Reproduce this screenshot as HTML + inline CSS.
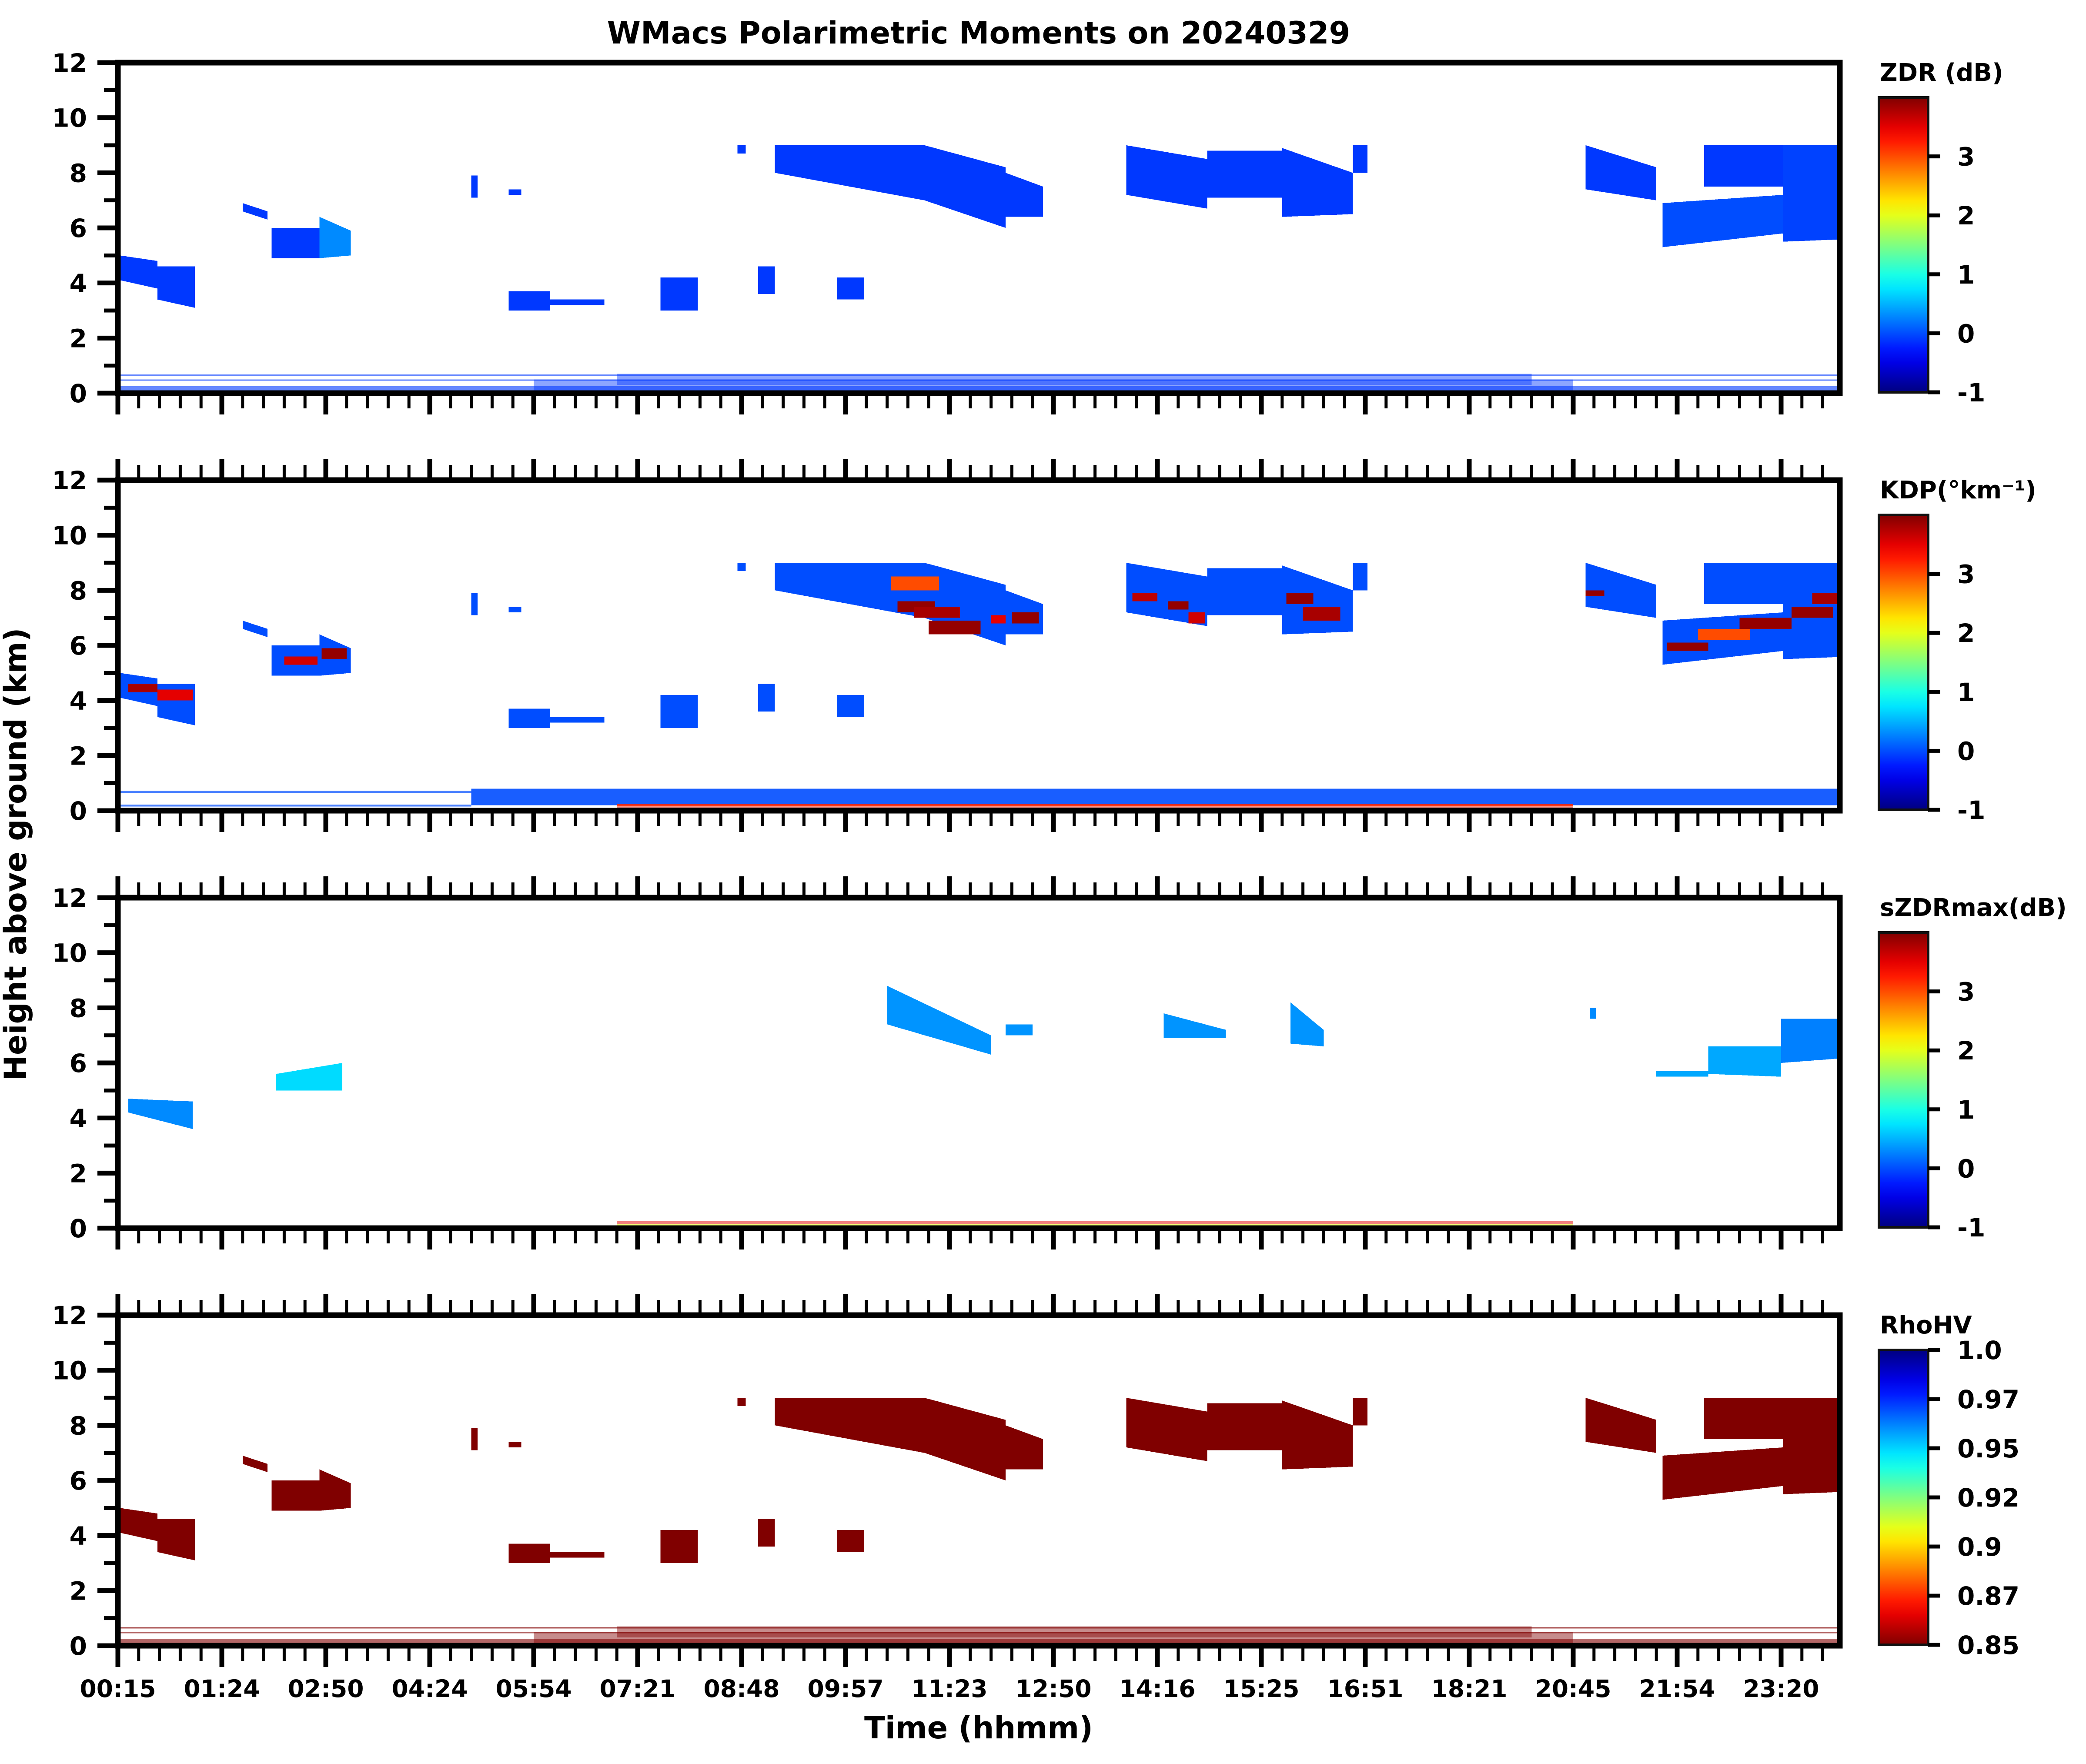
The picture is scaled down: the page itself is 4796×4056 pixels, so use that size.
<!DOCTYPE html>
<html><head><meta charset="utf-8"><style>
html,body{margin:0;padding:0;background:#fff}
svg{display:block}
text{font-family:"DejaVu Sans","Liberation Sans",sans-serif;font-weight:bold;fill:#000}
</style></head><body>
<svg id="fig" xmlns="http://www.w3.org/2000/svg" width="4796" height="4056" viewBox="0 0 4796 4056">
<text x="2250" y="100" font-size="70" text-anchor="middle">WMacs Polarimetric Moments on 20240329</text>
<text x="2250" y="3997" font-size="70" text-anchor="middle">Time (hhmm)</text>
<text transform="translate(60,1964) rotate(-90)" font-size="70" text-anchor="middle">Height above ground (km)</text>
</svg>
<script>
// ---- data (x in profile-index units, minor tick = 1 unit; heights in km) ----
const timeLabels = ["00:15","01:24","02:50","04:24","05:54","07:21","08:48","09:57","11:23","12:50","14:16","15:25","16:51","18:21","20:45","21:54","23:20"];
const yTicks = [0,2,4,6,8,10,12];
const panelTitles = ["ZDR (dB)","KDP(°km⁻¹)","sZDRmax(dB)","RhoHV"];
// echo blobs shared by ZDR / KDP / RhoHV
const blobStart = [0.1,1.9,6.0,7.4,9.7,17.0,18.8,18.8,20.8,26.1,30.8,34.6,31.6,38.8,42.7,48.5,52.4,56.0,59.4,70.6,74.3,80.1,76.3,29.8];
const blobEnd   = [1.9,3.7,7.2,9.7,11.2,17.3,19.4,20.8,23.4,27.9,31.6,35.9,38.8,42.7,44.5,52.4,56.3,59.4,60.1,74.0,80.1,83.5,80.1,30.2];
const blobBase0 = [4.1,3.4,6.6,4.9,4.9,7.1,7.2,3.0,3.2,3.0,3.6,3.4,8.0,7.0,6.4,7.2,7.1,6.4,8.0,7.4,5.3,5.5,7.5,8.7];
const blobBase1 = [3.8,3.1,6.3,4.9,5.0,7.1,7.2,3.0,3.2,3.0,3.6,3.4,7.0,6.0,6.4,6.7,7.1,6.5,8.0,7.0,5.8,5.6,7.5,8.7];
const blobTop0  = [5.0,4.6,6.9,6.0,6.4,7.9,7.4,3.7,3.4,4.2,4.6,4.2,9.0,9.0,8.0,9.0,8.8,8.9,9.0,9.0,6.9,9.0,9.0,9.0];
const blobTop1  = [4.8,4.6,6.6,6.0,5.9,7.9,7.4,3.7,3.4,4.2,4.6,4.2,9.0,8.2,7.5,8.5,8.8,8.0,9.0,8.2,7.2,9.0,9.0,9.0];
const zdrVal    = [-0.1,-0.1,-0.1,-0.1,0.3,-0.1,-0.1,-0.1,-0.1,-0.1,-0.1,-0.1,-0.1,-0.1,-0.1,-0.1,-0.1,-0.1,-0.1,-0.1,0.0,-0.05,-0.1,-0.1];
const kdpVal    = [0,0,0,0,0,0,0,0,0,0,0,0,0,0,0,0,0,0,0,0,0,0,0,0];
const rhoVal    = [0.85,0.85,0.85,0.85,0.85,0.85,0.85,0.85,0.85,0.85,0.85,0.85,0.85,0.85,0.85,0.85,0.85,0.85,0.85,0.85,0.85,0.85,0.85,0.85];
// KDP hot stripes
const kdpStripeStart = [0.5,1.9,8.0,9.8,37.2,37.5,38.3,39.0,42.0,43.0,48.8,50.5,51.5,56.2,57.0,70.6,74.5,76.0,78.0,80.5,81.5];
const kdpStripeEnd   = [1.9,3.6,9.6,11.0,39.5,39.3,40.5,41.5,42.7,44.3,50.0,51.5,52.3,57.5,58.8,71.5,76.5,78.5,80.5,82.5,83.5];
const kdpStripeH0    = [4.3,4.0,5.3,5.5,8.0,7.2,7.0,6.4,6.8,6.8,7.6,7.3,6.8,7.5,6.9,7.8,5.8,6.2,6.6,7.0,7.5];
const kdpStripeH1    = [4.6,4.4,5.6,5.9,8.5,7.6,7.4,6.9,7.1,7.2,7.9,7.6,7.2,7.9,7.4,8.0,6.1,6.6,7.0,7.4,7.9];
const kdpStripeVal   = [3.8,3.5,3.6,3.9,3.0,3.9,3.8,3.9,3.5,3.9,3.7,3.9,3.6,3.9,3.8,3.9,3.9,3.0,3.9,3.9,3.8];
// sZDRmax blobs
const szStart = [0.5,7.6,37.0,42.7,50.3,56.4,70.8,74.0,76.5,80.0];
const szEnd   = [3.6,10.8,42.0,44.0,53.3,58.0,71.1,76.5,80.0,83.5];
const szBase0 = [4.2,5.0,7.4,7.0,6.9,6.7,7.6,5.5,5.6,6.0];
const szBase1 = [3.6,5.0,6.3,7.0,6.9,6.6,7.6,5.5,5.5,6.2];
const szTop0  = [4.7,5.6,8.8,7.4,7.8,8.2,8.0,5.7,6.6,7.6];
const szTop1  = [4.6,6.0,7.0,7.4,7.2,7.2,8.0,5.7,6.6,7.6];
const szVal   = [0.3,0.7,0.35,0.35,0.35,0.35,0.3,0.45,0.45,0.25];
// ground clutter layers
const clutStart = [0.1,0.1,0.1,20.0,24.0];
const clutEnd   = [83.5,83.5,83.5,70.0,68.0];
const clutBase  = [0.62,0.45,0.05,0.0,0.3];
const clutTop   = [0.68,0.50,0.25,0.5,0.7];
const kdpGroundStart = [0.1,0.1,17.0,24.0,24.0];
const kdpGroundEnd   = [17.0,17.0,83.5,70.0,70.0];
const kdpGroundBase  = [0.65,0.15,0.2,0.02,0.15];
const kdpGroundTop   = [0.72,0.22,0.8,0.12,0.25];
const kdpGroundVal   = [0,0,0,3.9,3.2];
// colorbar tick labels
const cbTickVals = [[-1,0,1,2,3],[-1,0,1,2,3],[-1,0,1,2,3],[0.85,0.875,0.9,0.925,0.95,0.975,1.0]];
const cbTickText = [["-1","0","1","2","3"],["-1","0","1","2","3"],["-1","0","1","2","3"],["0.85","0.87","0.9","0.92","0.95","0.97","1.0"]];
const cbRange = [[-1,4],[-1,4],[-1,4],[0.85,1.0]];

// ---- layout ----
const NS="http://www.w3.org/2000/svg";
const svg=document.getElementById('fig');
const X0=271, X1=4230, UNIT=47.8;
const panelTop=[144,1104,2064,3024], PH=760;
const xs=u=>X0+u*UNIT;
function ysFor(p){return km=>panelTop[p]+PH-km/12*PH;}
function jet(v){const c=x=>Math.round(255*Math.max(0,Math.min(1,x)));
  return `rgb(${c(1.5-Math.abs(4*v-3))},${c(1.5-Math.abs(4*v-2))},${c(1.5-Math.abs(4*v-1))})`;}
function mk(tag,attrs,parent){const e=document.createElementNS(NS,tag);for(const k in attrs)e.setAttribute(k,attrs[k]);(parent||svg).appendChild(e);return e;}
function colorFor(p,v){const r=cbRange[p];let t=(v-r[0])/(r[1]-r[0]);if(p===3)t=1-t;return jet(t);}

function drawBlob(g,ys,s,e,b0,b1,t0,t1,col,op){
  const pts=[[xs(s),ys(b0)],[xs(e),ys(b1)],[xs(e),ys(t1)],[xs(s),ys(t0)]].map(p=>p.join(',')).join(' ');
  const el=mk('polygon',{points:pts,fill:col},g);
  if(op!==undefined) el.setAttribute('fill-opacity',op);
  
  
}

const defs0=mk('defs',{});
for(let p=0;p<4;p++){
  const cp=mk('clipPath',{id:'clip'+p},defs0);
  mk('rect',{x:X0,y:panelTop[p],width:X1-X0,height:PH},cp);
}

for(let p=0;p<4;p++){
  const ys=ysFor(p);
  const g=mk('g',{});
  
  
  const dg=mk('g',{'shape-rendering':'crispEdges','clip-path':`url(#clip${p})`},g);
  
  
  if(p===2){
    for(let i=0;i<szStart.length;i++) drawBlob(dg,ys,szStart[i],szEnd[i],szBase0[i],szBase1[i],szTop0[i],szTop1[i],colorFor(p,szVal[i]));
    drawBlob(dg,ys,24,70,0.02,0.02,0.14,0.14,colorFor(p,2.0),0.6);
    drawBlob(dg,ys,24,70,0.14,0.14,0.25,0.25,colorFor(p,3.5),0.5);
  } else if(p===1){
    for(let i=0;i<kdpGroundStart.length;i++) drawBlob(dg,ys,kdpGroundStart[i],kdpGroundEnd[i],kdpGroundBase[i],kdpGroundBase[i],kdpGroundTop[i],kdpGroundTop[i],colorFor(p,kdpGroundVal[i]),i<2?0.7:0.9);
    for(let i=0;i<blobStart.length;i++) drawBlob(dg,ys,blobStart[i],blobEnd[i],blobBase0[i],blobBase1[i],blobTop0[i],blobTop1[i],colorFor(p,kdpVal[i]));
    for(let i=0;i<kdpStripeStart.length;i++) drawBlob(dg,ys,kdpStripeStart[i],kdpStripeEnd[i],kdpStripeH0[i],kdpStripeH0[i],kdpStripeH1[i],kdpStripeH1[i],colorFor(p,kdpStripeVal[i]));
  } else {
    const vals=p===0?zdrVal:rhoVal;
    const cv=p===0?-0.1:0.85;
    for(let i=0;i<clutStart.length;i++){
      drawBlob(dg,ys,clutStart[i],clutEnd[i],clutBase[i],clutBase[i],clutTop[i],clutTop[i],colorFor(p,cv),i>=3?0.45:0.6);
    }
    for(let i=0;i<blobStart.length;i++) drawBlob(dg,ys,blobStart[i],blobEnd[i],blobBase0[i],blobBase1[i],blobTop0[i],blobTop1[i],colorFor(p,vals[i]));
  }
  // frame
  const fr=mk('rect',{x:X0,y:panelTop[p],width:X1-X0,height:PH,fill:'none',stroke:'#000','stroke-width':13},g);
  
  
  // y ticks
  for(let k=0;k<=12;k++){
    const y=ys(k),major=k%2===0;
    const t=mk('line',{x1:X0-(major?47:32),x2:X0,y1:y,y2:y,stroke:'#000','stroke-width':major?11:9},g);
    
    
  }
  yTicks.forEach(v=>{
    const t=mk('text',{x:200,y:ys(v)+21,'font-size':58,'text-anchor':'end'},g);
    t.textContent=v;
    
    
  });
  // x ticks
  const bot=panelTop[p]+PH;
  for(let i=0;xs(i)<=X1;i++){
    const x=xs(i),major=i%5===0;
    const t=mk('line',{x1:x,x2:x,y1:bot,y2:bot+(major?49:35),stroke:'#000','stroke-width':major?11:7},g);
    
    
    if(p>0){
      const t2=mk('line',{x1:x,x2:x,y1:panelTop[p],y2:panelTop[p]-(major?49:35),stroke:'#000','stroke-width':major?11:7},g);
      
      
    }
  }
  if(p===3){
    timeLabels.forEach((s,k)=>{
      const t=mk('text',{x:xs(k*5),y:3902,'font-size':55,'text-anchor':'middle'},g);
      t.textContent=s;
      
      
    });
  }
  // colorbar
  const cx0=4320,cx1=4433,cy0=panelTop[p]+80,cy1=bot-2;
  const gid='grad'+p;
  const defs=mk('defs',{},g);
  const lg=mk('linearGradient',{id:gid,x1:0,y1:1,x2:0,y2:0},defs);
  for(let s=0;s<=20;s++){const f=s/20;mk('stop',{offset:f,'stop-color':jet(p===3?1-f:f)},lg);}
  const cb=mk('rect',{x:cx0,y:cy0,width:cx1-cx0,height:cy1-cy0,fill:`url(#${gid})`,stroke:'#111','stroke-width':6},g);
  
  
  const r=cbRange[p];
  cbTickVals[p].forEach((v,k)=>{
    const y=cy1-(v-r[0])/(r[1]-r[0])*(cy1-cy0);
    const t=mk('line',{x1:cx1,x2:cx1+28,y1:y,y2:y,stroke:'#000','stroke-width':9},g);
    
    
    const l=mk('text',{x:4500,y:y+21,'font-size':58},g);
    l.textContent=cbTickText[p][k];
    
    
  });
  const tt=mk('text',{x:4322,y:panelTop[p]+42,'font-size':56},g);
  tt.textContent=panelTitles[p];
  
  
}
</script>
</body></html>
